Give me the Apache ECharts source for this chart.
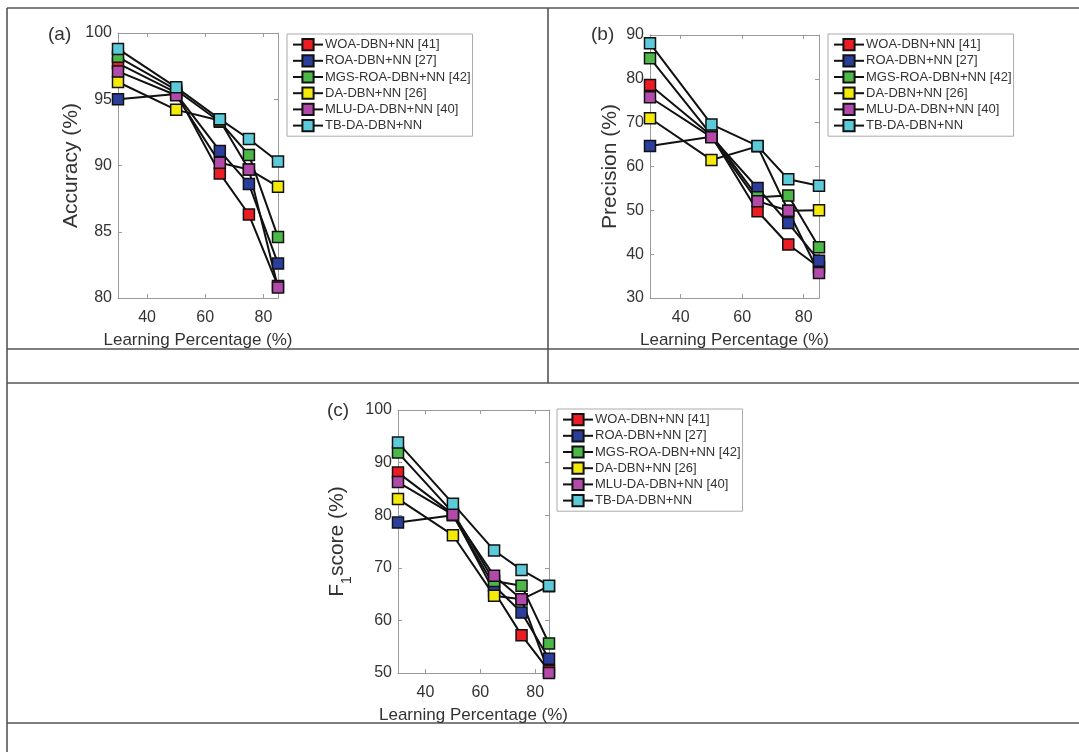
<!DOCTYPE html>
<html>
<head>
<meta charset="utf-8">
<script src="https://cdn.jsdelivr.net/npm/echarts@6/dist/echarts.min.js"></script>
<style>
  html, body { margin: 0; padding: 0; background: #fff; }
  #main { width: 1079px; height: 752px; }
</style>
</head>
<body>
<div id="main"></div>
<script>
// learning percentage on the x axis
var learnPct = [30, 50, 65, 75, 85];
var xTicks = [40, 60, 80];

var methods = ['WOA-DBN+NN [41]', 'ROA-DBN+NN [27]', 'MGS-ROA-DBN+NN [42]',
               'DA-DBN+NN [26]', 'MLU-DA-DBN+NN [40]', 'TB-DA-DBN+NN'];
var colors = ['#ec1c24', '#2c3e9c', '#4bb848', '#f4ea0a', '#b24aa9', '#5ccad8'];

// (a) accuracy
var accWOA = [97.7, 95.5, 89.4, 86.3, 80.9];
var accROA = [95.0, 95.4, 91.1, 88.6, 82.6];
var accMGS = [98.2, 95.7, 93.3, 90.8, 84.6];
var accDA  = [96.3, 94.2, 93.4, 89.7, 88.4];
var accMLU = [97.1, 95.3, 90.2, 89.7, 80.8];
var accTB  = [98.8, 95.9, 93.5, 92.0, 90.3];

// (b) precision
var preWOA = [78.6, 67.0, 49.8, 42.2, 37.0];
var preROA = [64.7, 66.8, 55.1, 47.1, 38.5];
var preMGS = [84.7, 67.2, 53.0, 53.4, 41.6];
var preDA  = [71.0, 61.5, 64.6, 49.9, 50.0];
var preMLU = [75.8, 66.7, 52.1, 49.9, 35.7];
var preTB  = [88.1, 69.6, 64.7, 57.1, 55.6];

// (c) F1 score
var f1WOA = [88.1, 80.2, 65.5, 57.2, 50.4];
var f1ROA = [78.6, 80.0, 66.6, 61.5, 52.7];
var f1MGS = [91.9, 80.5, 67.5, 66.6, 55.6];
var f1DA  = [83.1, 76.2, 64.7, 64.0, 66.5];
var f1MLU = [86.3, 80.1, 68.5, 64.0, 50.0];
var f1TB  = [93.8, 82.2, 73.3, 69.6, 66.6];

var panels = [
  { data: [accWOA, accROA, accMGS, accDA, accMLU, accTB], min: 80, max: 100, interval: 5,
    name: 'Accuracy (%)', nameGap: 36 },
  { data: [preWOA, preROA, preMGS, preDA, preMLU, preTB], min: 30, max: 90, interval: 10,
    name: 'Precision (%)', nameGap: 29 },
  { data: [f1WOA, f1ROA, f1MGS, f1DA, f1MLU, f1TB], min: 50, max: 100, interval: 10,
    name: 'F{s|1}score (%)', nameGap: 44 }
];

var font = "'Liberation Sans', Arial, sans-serif";
var txt = '#333';
var axisGray = '#9a9a9a';

let myChart = echarts.init(document.getElementById('main'), null, { renderer: 'canvas' });

let grids = [
  { left: 118, top: 33, width: 160, height: 265 },
  { left: 650, top: 35, width: 169, height: 263 },
  { left: 398, top: 410, width: 151, height: 263 }
];

let xAxes = [], yAxes = [], series = [];
panels.forEach(function(p, gi) {
  let tick = { show: true, inside: true, length: 4, lineStyle: { color: axisGray } };
  xAxes.push({
    gridIndex: gi, type: 'value', position: 'bottom', min: 30, max: 85,
    name: 'Learning Percentage (%)', nameLocation: 'middle', nameGap: 34,
    nameTextStyle: { fontFamily: font, fontSize: 17, color: txt },
    axisLine: { show: true, lineStyle: { color: axisGray, width: 1 } },
    axisTick: Object.assign({ customValues: xTicks }, tick),
    axisLabel: { customValues: xTicks, fontFamily: font, fontSize: 16, color: txt, margin: 12 },
    splitLine: { show: false }
  });
  xAxes.push({
    gridIndex: gi, type: 'value', position: 'top', min: 30, max: 85,
    axisLine: { show: true, lineStyle: { color: axisGray, width: 1 } },
    axisTick: Object.assign({ customValues: xTicks }, tick),
    axisLabel: { show: false }, splitLine: { show: false }
  });
  yAxes.push({
    gridIndex: gi, type: 'value', position: 'left', min: p.min, max: p.max, interval: p.interval,
    name: p.name, nameLocation: 'middle', nameGap: p.nameGap,
    nameTextStyle: { fontFamily: font, fontSize: 21, color: txt,
      rich: { s: { fontFamily: font, fontSize: 14, color: txt, verticalAlign: 'bottom', lineHeight: 34 } } },
    axisLine: { show: true, lineStyle: { color: axisGray, width: 1 } },
    axisTick: tick,
    axisLabel: { fontFamily: font, fontSize: 16, color: txt, margin: 6 },
    splitLine: { show: false }
  });
  yAxes.push({
    gridIndex: gi, type: 'value', position: 'right', min: p.min, max: p.max, interval: p.interval,
    axisLine: { show: true, lineStyle: { color: axisGray, width: 1 } },
    axisTick: tick, axisLabel: { show: false }, splitLine: { show: false }
  });
  p.data.forEach(function(vals, mi) {
    series.push({
      type: 'line', name: methods[mi],
      xAxisIndex: gi * 2, yAxisIndex: gi * 2,
      data: learnPct.map(function(x, i) { return [x, vals[i]]; }),
      symbol: 'rect', symbolSize: 11,
      lineStyle: { color: '#111', width: 2 },
      itemStyle: { color: colors[mi], borderColor: '#111', borderWidth: 1.5 },
      emphasis: { disabled: true }
    });
  });
});

let legendPos = [ { left: 287, top: 34 }, { left: 828, top: 34 }, { left: 557, top: 409 } ];
let legends = legendPos.map(function(pos) {
  return Object.assign({
    orient: 'vertical', data: methods, itemWidth: 30, itemHeight: 14, itemGap: 3,
    padding: [4, 2, 4, 5], borderColor: '#aaa', borderWidth: 1, backgroundColor: '#fff',
    textStyle: { fontFamily: font, fontSize: 13, color: txt, padding: [0, 0, 0, -3] },
    selectedMode: false
  }, pos);
});

let titles = [
  { text: '(a)', left: 48, top: 25 },
  { text: '(b)', left: 591, top: 25 },
  { text: '(c)', left: 327, top: 401 }
].map(function(t) {
  t.textStyle = { fontFamily: font, fontSize: 19, fontWeight: 'normal', color: txt };
  t.padding = 0;
  return t;
});

// table frame around the panels
let frameStyle = { stroke: '#555', lineWidth: 1.6 };
let frame = [
  [7, 8, 1079, 8], [7, 8, 7, 752], [548, 8, 548, 383],
  [7, 349, 1079, 349], [7, 383, 1079, 383], [7, 723, 1079, 723]
].map(function(s) {
  return { type: 'line', shape: { x1: s[0], y1: s[1], x2: s[2], y2: s[3] }, style: frameStyle, silent: true };
});

let option = {
  animation: false,
  backgroundColor: '#fff',
  title: titles,
  grid: grids,
  xAxis: xAxes,
  yAxis: yAxes,
  legend: legends,
  graphic: frame,
  series: series
};
myChart.setOption(option);
</script>
</body>
</html>
